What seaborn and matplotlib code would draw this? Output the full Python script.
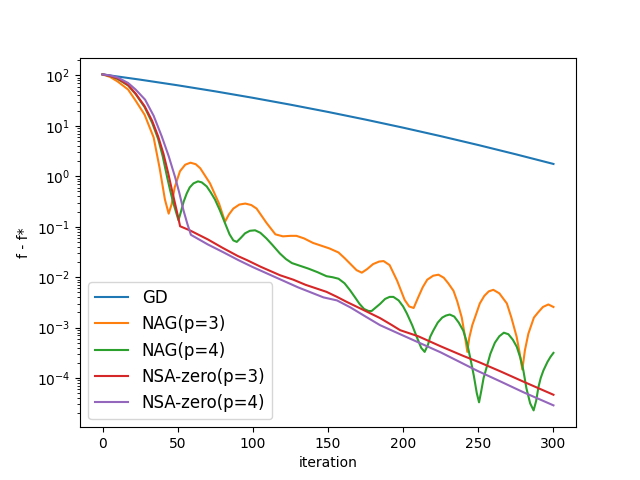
import numpy as np
import matplotlib
matplotlib.use("Agg")
import matplotlib.pyplot as plt
import seaborn as sns

# ---- data (log10 of f - f*) ----
gd_x = [0, 25, 50, 75, 100, 125, 150, 175, 200, 225, 250, 275, 300]
gd_log = [2.02, 1.916, 1.804, 1.684, 1.556, 1.42, 1.276, 1.124, 0.964, 0.796, 0.62, 0.436, 0.245]

nag3_x = [0, 5, 10, 17, 22, 28, 34, 38, 41.5, 44, 46, 48, 51.5, 55, 58.5, 62, 65, 71.5, 77.5,
          81.5, 84, 87, 91, 95, 99, 102.5, 109, 115, 120, 125, 129, 134, 140, 146, 151, 157,
          161, 165, 169, 172.5, 176, 180, 184, 187, 191, 196, 201, 204, 207, 210, 213, 216,
          220, 223.5, 227, 230, 233.5, 236, 239, 241, 242.7, 244, 246, 248, 251, 254, 257,
          260, 264, 269, 272, 275.5, 277.5, 279.3, 281, 283.3, 287, 290, 293, 296.6, 300]
nag3_log = [2.02, 1.97, 1.88, 1.72, 1.50, 1.22, 0.77, 0.16, -0.46, -0.74, -0.55, -0.22, 0.10,
            0.23, 0.27, 0.24, 0.16, -0.14, -0.54, -0.90, -0.76, -0.64, -0.56, -0.54, -0.57,
            -0.64, -0.92, -1.15, -1.19, -1.18, -1.18, -1.23, -1.32, -1.38, -1.43, -1.51,
            -1.62, -1.74, -1.86, -1.91, -1.84, -1.74, -1.69, -1.68, -1.76, -2.07, -2.45,
            -2.58, -2.61, -2.40, -2.20, -2.05, -1.97, -1.95, -2.01, -2.12, -2.27, -2.48,
            -2.80, -3.15, -3.48, -3.20, -2.95, -2.78, -2.52, -2.37, -2.28, -2.25, -2.32,
            -2.52, -2.80, -3.18, -3.50, -3.83, -3.45, -3.12, -2.80, -2.69, -2.59, -2.54, -2.59]

nag4_x = [0, 5, 10, 17, 22, 28, 33, 37, 40, 43, 45, 47, 49, 50.5, 52, 54, 56, 58, 60.5, 63.5,
          66, 69.3, 72, 74.8, 78, 81.5, 84.5, 87, 89.3, 92, 94.8, 98, 101.5, 105, 109, 113,
          118, 122, 126, 131, 137, 143, 149, 153, 157, 161, 164.7, 168, 171, 174, 177, 179,
          181, 184.6, 188, 191, 193.5, 197, 200, 202.5, 206, 209, 212, 214.3, 216.5, 218,
          220, 223, 226, 228.5, 231, 234, 237, 240, 242.5, 245, 247, 249, 250.5, 252, 253.5,
          255.5, 258, 261, 264, 267, 270, 273, 275.6, 278, 280, 282, 284.5, 286.8, 288.5,
          290, 291.5, 293.3, 296, 298, 300]
nag4_log = [2.02, 1.99, 1.93, 1.80, 1.63, 1.37, 1.06, 0.74, 0.40, -0.02, -0.28, -0.52, -0.72,
            -0.87, -0.72, -0.50, -0.34, -0.22, -0.14, -0.10, -0.12, -0.20, -0.32, -0.46,
            -0.67, -0.93, -1.15, -1.27, -1.30, -1.22, -1.13, -1.08, -1.07, -1.12, -1.23,
            -1.36, -1.53, -1.64, -1.72, -1.77, -1.83, -1.90, -1.98, -2.00, -2.03, -2.12,
            -2.26, -2.40, -2.53, -2.63, -2.67, -2.67, -2.62, -2.53, -2.43, -2.39, -2.39,
            -2.46, -2.58, -2.72, -2.95, -3.18, -3.40, -3.48, -3.34, -3.18, -3.06, -2.90,
            -2.80, -2.76, -2.74, -2.78, -2.90, -3.06, -3.30, -3.65, -3.95, -4.30, -4.48,
            -4.25, -4.00, -3.79, -3.52, -3.30, -3.17, -3.10, -3.13, -3.24, -3.38, -3.60,
            -3.85, -4.20, -4.50, -4.64, -4.45, -4.18, -4.00, -3.85, -3.68, -3.58, -3.50]

nsa3_x = [0, 5, 10, 17, 22, 28, 33, 37, 40.5, 43.7, 46, 48.2, 50, 51.6, 58, 70, 80, 90, 96,
          105, 118, 127, 135, 149, 156, 162.5, 175, 184.6, 192, 198, 210, 225, 240, 251,
          265, 280, 290, 300]
nsa3_log = [2.02, 1.99, 1.94, 1.81, 1.64, 1.39, 1.10, 0.79, 0.45, 0.06, -0.25, -0.535, -0.77,
            -0.99, -1.07, -1.25, -1.42, -1.58, -1.66, -1.79, -1.96, -2.05, -2.15, -2.29,
            -2.39, -2.49, -2.67, -2.81, -2.94, -3.05, -3.17, -3.37, -3.56, -3.69, -3.87,
            -4.07, -4.20, -4.33]

nsa4_x = [0, 5, 10, 17, 22, 28.3, 34, 39.4, 44, 48.2, 51, 53.8, 56.5, 58.8, 70, 80, 90.3, 100,
          118, 130, 147, 156, 165, 175, 184.6, 198, 210, 225, 249, 265, 280, 290, 300]
nsa4_log = [2.02, 2.00, 1.96, 1.85, 1.72, 1.52, 1.20, 0.79, 0.40, -0.01, -0.32, -0.67, -0.95,
            -1.16, -1.35, -1.50, -1.66, -1.80, -2.04, -2.20, -2.40, -2.46, -2.60, -2.78,
            -2.95, -3.13, -3.29, -3.49, -3.85, -4.07, -4.28, -4.41, -4.54]

series = [
    ("GD", gd_x, gd_log),
    ("NAG(p=3)", nag3_x, nag3_log),
    ("NAG(p=4)", nag4_x, nag4_log),
    ("NSA-zero(p=3)", nsa3_x, nsa3_log),
    ("NSA-zero(p=4)", nsa4_x, nsa4_log),
]
colors = ["#1f77b4", "#ff7f0e", "#2ca02c", "#d62728", "#9467bd"]

fig, ax = plt.subplots(figsize=(6.4, 4.8), dpi=100)
for (name, xs, ls), c in zip(series, colors):
    sns.lineplot(x=np.array(xs, dtype=float), y=10.0 ** np.array(ls), ax=ax,
                 label=name, color=c, linewidth=1.5, sort=False)

ax.set_yscale("log")
ax.set_xlabel("iteration")
ax.set_ylabel("f - f*")
ax.legend(loc="lower left", fontsize=12)
fig.savefig("out.png", dpi=100)
